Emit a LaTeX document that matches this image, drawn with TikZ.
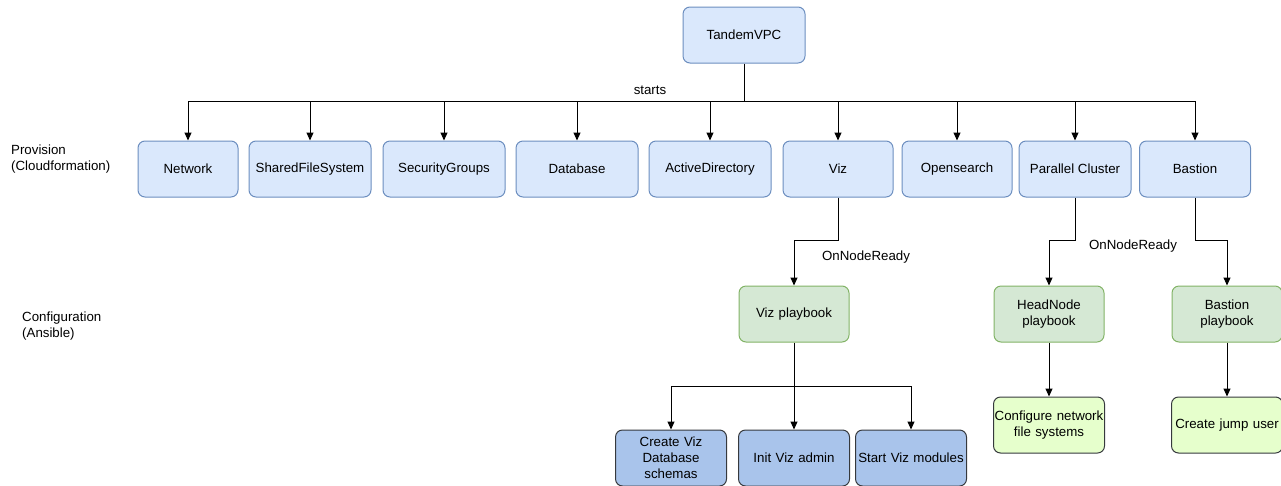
\documentclass[tikz,border=0pt]{standalone}
\usepackage{fontspec}
\setmainfont{Liberation Sans}
\usetikzlibrary{arrows.meta}

\definecolor{provfill}{HTML}{DAE8FC}
\definecolor{provline}{HTML}{6C8EBF}
\definecolor{pbfill}{HTML}{D5E8D4}
\definecolor{pbline}{HTML}{82B366}
\definecolor{taskfill}{HTML}{A9C4EB}
\definecolor{taskline}{HTML}{36393D}
\definecolor{jobfill}{HTML}{E6FFCC}

\begin{document}
\begin{tikzpicture}[x=1pt, y=-1pt,
  font=\fontsize{13.3}{16}\selectfont,
  box/.style={draw, rounded corners=7pt, line width=1pt, inner sep=0pt,
    minimum height=56pt, align=center},
  prov/.style={box, fill=provfill, draw=provline},
  playbook/.style={box, fill=pbfill, draw=pbline, minimum width=110pt, text width=108pt},
  task/.style={box, fill=taskfill, draw=taskline, minimum width=111pt, text width=111pt},
  job/.style={box, fill=jobfill, draw=taskline, minimum width=111pt, text width=111pt},
  arr/.style={-{Triangle[length=8pt, width=7pt]}, line width=1pt},
  layer/.style={align=left, anchor=west, inner sep=0pt}]
  \useasboundingbox (0,0) rectangle (1281,485);

  \node[prov, minimum width=122pt] (vpc) at (744,35) {TandemVPC};
  \coordinate (bus) at (744,101);
  \draw[line width=1pt] (vpc) -- (bus);
  \node (starts) at (650,90) {starts};

  % provisioning stacks
  \foreach \name/\x/\w/\txt in {net/188/100/Network, sfs/310/122/SharedFileSystem,
      sg/444/122/SecurityGroups, db/577/122/Database, ad/710/122/ActiveDirectory,
      viz/838/110/Viz, os/957/110/Opensearch, pc/1075/112/Parallel Cluster,
      bastion/1195/111/Bastion} {
    \node[prov, minimum width=\w pt] (\name) at (\x,169) {\txt};
    \draw[arr] (bus) -| (\name.north);
  }

  \node[layer] (provision) at (11,159) {Provision\\(Cloudformation)};
  \node[layer] (config) at (22,326) {Configuration\\(Ansible)};

  % playbooks
  \node[playbook] (vizpb) at (794,314) {Viz playbook};
  \node[playbook] (headpb) at (1049,314) {HeadNode\\playbook};
  \node[playbook] (bastionpb) at (1227,314) {Bastion\\playbook};

  \draw[arr] (viz.south) -- ++(0,43) -| (vizpb.north);
  \draw[arr] (pc.south) -- ++(0,43) -| (headpb.north);
  \draw[arr] (bastion.south) -- ++(0,43) -| (bastionpb.north);
  \node (ready1) at (866,257) {OnNodeReady};
  \node (ready2) at (1133,246) {OnNodeReady};

  % tasks
  \node[task] (schemas) at (671,458) {Create Viz\\Database\\schemas};
  \node[task] (admin) at (794,458) {Init Viz admin};
  \node[task] (modules) at (911,458) {Start Viz modules};
  \coordinate (split) at (794,386);
  \draw[line width=1pt] (vizpb.south) -- (split);
  \foreach \name in {schemas,admin,modules}
    \draw[arr] (split) -| (\name.north);

  \node[job] (nfs) at (1049,425) {Configure network\\file systems};
  \node[job] (jump) at (1227,425) {Create jump user};
  \draw[arr] (headpb) -- (nfs);
  \draw[arr] (bastionpb) -- (jump);
\end{tikzpicture}
\end{document}
